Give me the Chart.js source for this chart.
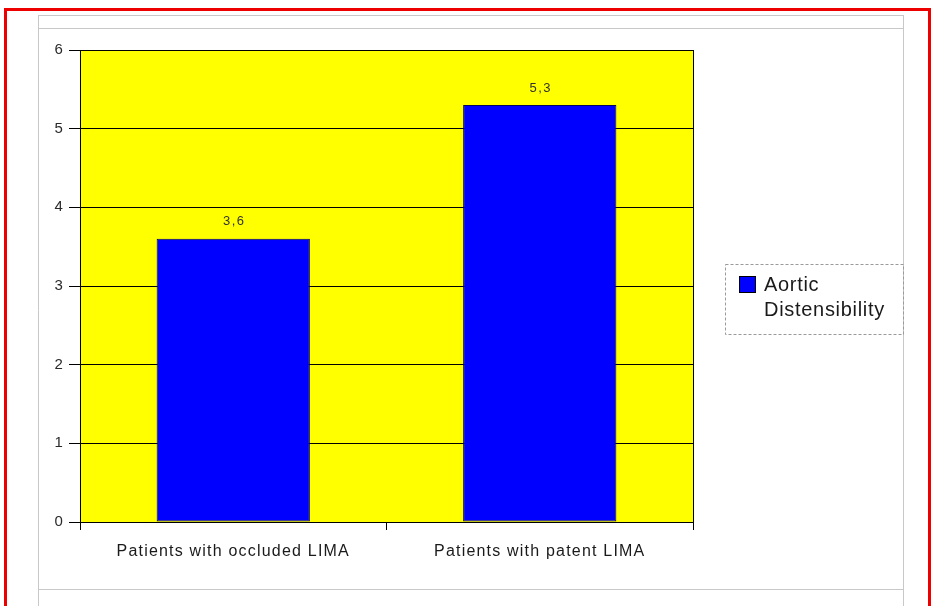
<!DOCTYPE html>
<html>
<head>
<meta charset="utf-8">
<script src="https://cdn.jsdelivr.net/npm/chart.js@4/dist/chart.umd.min.js"></script>
<style>
  html, body { margin: 0; padding: 0; background: #ffffff; }
  #wrap { width: 933px; height: 606px; position: relative; }
</style>
</head>
<body>
<div id="wrap"><canvas id="c" width="933" height="606"></canvas></div>
<script>
const categories = ['Patients with occluded LIMA', 'Patients with patent LIMA'];
const seriesName = 'Aortic Distensibility';
const legendLines = ['Aortic', 'Distensibility'];
const values = [3.6, 5.3];
const yTicks = [0, 1, 2, 3, 4, 5, 6];

const FONT = '"Liberation Sans", Arial, sans-serif';
const BAR_BLUE = '#0000ff';

// Page frame: red outer border, light grey panel lines, yellow plot area
const framePlugin = {
  id: 'frame',
  beforeDraw(chart) {
    const ctx = chart.ctx;
    ctx.save();
    ctx.fillStyle = '#ffffff';
    ctx.fillRect(0, 0, chart.width, chart.height);
    ctx.strokeStyle = '#c8c8c8';
    ctx.lineWidth = 1;
    ctx.beginPath();
    ctx.moveTo(38.5, 15); ctx.lineTo(38.5, 606);
    ctx.moveTo(903.5, 15); ctx.lineTo(903.5, 606);
    ctx.moveTo(38, 15.5); ctx.lineTo(904, 15.5);
    ctx.moveTo(38, 28.5); ctx.lineTo(904, 28.5);
    ctx.moveTo(38, 589.5); ctx.lineTo(904, 589.5);
    ctx.stroke();
    ctx.strokeStyle = '#ee0000';
    ctx.lineWidth = 3;
    ctx.beginPath();
    ctx.moveTo(5.5, 620); ctx.lineTo(5.5, 9.5); ctx.lineTo(929.5, 9.5); ctx.lineTo(929.5, 620);
    ctx.stroke();
    const a = chart.chartArea;
    ctx.fillStyle = '#ffff00';
    ctx.fillRect(a.left, a.top, a.right - a.left, a.bottom - a.top);
    ctx.restore();
    // slightly widened lettering for the axis labels
    ctx.letterSpacing = '1.2px';
  },
  afterDraw(chart) {
    const ctx = chart.ctx;
    const a = chart.chartArea;
    ctx.save();
    ctx.strokeStyle = '#000000';
    ctx.lineWidth = 1;
    ctx.strokeRect(Math.round(a.left) + 0.5, Math.round(a.top) + 0.5,
      Math.round(a.right - a.left), Math.round(a.bottom - a.top));
    // legend box
    ctx.setLineDash([3, 2]);
    ctx.strokeStyle = '#9a9a9a';
    ctx.strokeRect(725.5, 264.5, 178, 70);
    ctx.setLineDash([]);
    const ds = chart.data.datasets[0];
    ctx.fillStyle = ds.backgroundColor;
    ctx.fillRect(739, 276, 16, 16);
    ctx.strokeStyle = '#000000';
    ctx.strokeRect(739.5, 276.5, 16, 16);
    ctx.fillStyle = '#1a1a1a';
    ctx.letterSpacing = '0.7px';
    ctx.font = '20px ' + FONT;
    ctx.textBaseline = 'alphabetic';
    ctx.textAlign = 'left';
    ctx.fillText(legendLines[0], 764, 291);
    ctx.fillText(legendLines[1], 764, 316);
    ctx.restore();
  }
};

// Value labels above each bar, decimal comma
const valueLabelPlugin = {
  id: 'valueLabels',
  afterDatasetsDraw(chart) {
    const ctx = chart.ctx;
    const meta = chart.getDatasetMeta(0);
    ctx.save();
    ctx.letterSpacing = '1.5px';
    ctx.font = '13px ' + FONT;
    ctx.fillStyle = '#333333';
    ctx.textAlign = 'center';
    ctx.textBaseline = 'middle';
    meta.data.forEach((bar, i) => {
      const txt = values[i].toFixed(1).replace('.', ',');
      ctx.fillText(txt, bar.x + 1, bar.y - 17);
    });
    ctx.restore();
  }
};

new Chart(document.getElementById('c'), {
  type: 'bar',
  data: {
    labels: categories,
    datasets: [{
      label: seriesName,
      data: values,
      backgroundColor: BAR_BLUE,
      borderColor: '#000060',
      borderWidth: 1,
      borderSkipped: false,
      categoryPercentage: 0.5,
      barPercentage: 1.0
    }]
  },
  options: {
    responsive: false,
    animation: false,
    devicePixelRatio: 1,
    layout: { padding: { top: 50, right: 240, bottom: 0, left: 0 } },
    plugins: {
      legend: { display: false },
      tooltip: { enabled: false }
    },
    scales: {
      x: {
        offset: true,
        grid: {
          offset: true,
          display: true,
          drawOnChartArea: false,
          color: '#000000',
          tickLength: 8,
          tickColor: '#000000'
        },
        border: { color: '#000000' },
        ticks: {
          color: '#1a1a1a',
          font: { family: FONT, size: 16 },
          padding: 12
        },
        afterFit(axis) { axis.height = 84; }
      },
      y: {
        min: 0,
        max: 6,
        afterBuildTicks(axis) { axis.ticks = yTicks.map(v => ({ value: v })); },
        grid: {
          color: '#000000',
          tickLength: 11,
          tickColor: '#000000'
        },
        border: { color: '#000000' },
        ticks: {
          color: '#2a2a2a',
          font: { family: FONT, size: 15 },
          padding: 5
        },
        afterFit(axis) { axis.width = 80; }
      }
    }
  },
  plugins: [framePlugin, valueLabelPlugin]
});
</script>
</body>
</html>
